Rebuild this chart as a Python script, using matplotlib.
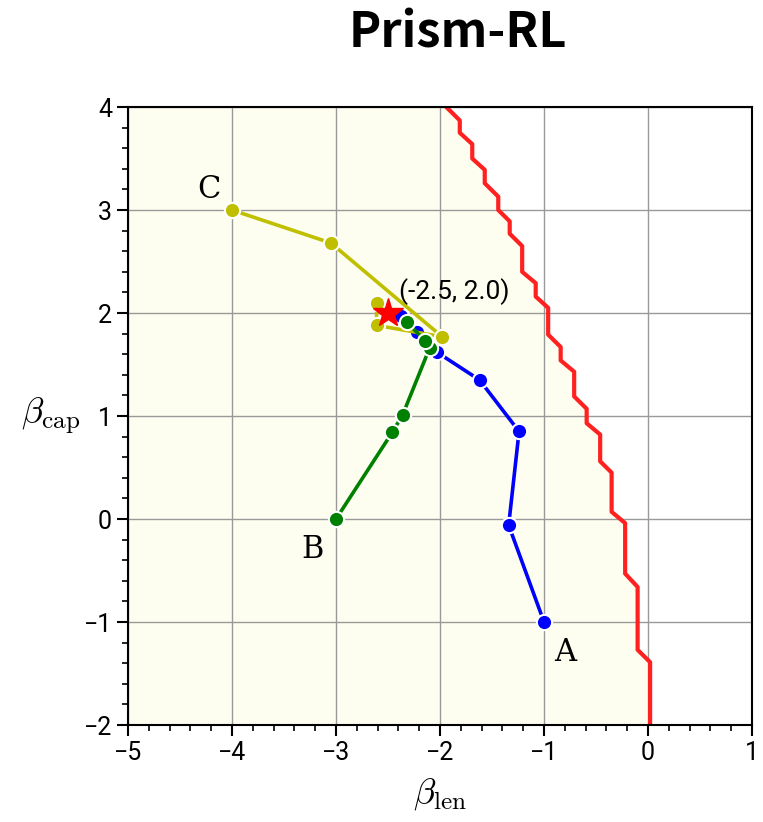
import numpy as np
import matplotlib
matplotlib.use('Agg')
import matplotlib.pyplot as plt
from matplotlib.ticker import MultipleLocator

plt.rcParams['font.family'] = ['Roboto', 'DejaVu Sans']
plt.rcParams['mathtext.fontset'] = 'cm'

# feasibility boundary (staircase)
bound_x = [-1.94, -1.81, -1.81, -1.69, -1.69, -1.57, -1.57, -1.44, -1.44, -1.33, -1.33,
           -1.21, -1.21, -1.08, -1.08, -0.96, -0.96, -0.84, -0.84, -0.71, -0.71, -0.59,
           -0.59, -0.46, -0.46, -0.35, -0.35, -0.22, -0.22, -0.10, -0.10, 0.02, 0.02]
bound_y = [4.00, 3.87, 3.75, 3.64, 3.50, 3.39, 3.26, 3.13, 3.00, 2.89, 2.77,
           2.65, 2.40, 2.29, 2.16, 2.05, 1.79, 1.67, 1.54, 1.43, 1.19, 1.07,
           0.93, 0.82, 0.56, 0.45, 0.07, -0.04, -0.53, -0.66, -1.27, -1.39, -2.00]

# trajectories
traj_a_x = [-1.00, -1.34, -1.24, -1.62, -2.03, -2.22, -2.38]
traj_a_y = [-1.00, -0.06, 0.85, 1.35, 1.62, 1.82, 1.97]
traj_b_x = [-3.00, -2.46, -2.36, -2.10, -2.14, -2.32]
traj_b_y = [0.00, 0.84, 1.01, 1.66, 1.73, 1.91]
traj_c_x = [-4.00, -3.05, -1.98, -2.61, -2.61]
traj_c_y = [3.00, 2.68, 1.77, 1.88, 2.10]

target = (-2.5, 2.0)

fig = plt.figure(figsize=(7.63, 8.22), dpi=100)
ax = fig.add_axes([0.1678, 0.118, 0.8178, 0.7518])

ax.fill_betweenx(bound_y, -5, bound_x, color='#fefef0', zorder=0)
ax.plot(bound_x, bound_y, color='#ff2020', lw=3, zorder=2)

ax.plot(traj_a_x, traj_a_y, '-o', color='b', lw=2.6, ms=11, mec='white', mew=1.5, zorder=3)
ax.plot(traj_b_x, traj_b_y, '-o', color='g', lw=2.6, ms=11, mec='white', mew=1.5, zorder=4)
ax.plot(traj_c_x, traj_c_y, '-o', color='y', lw=2.6, ms=11, mec='white', mew=1.5, zorder=3)
ax.plot(*target, marker='*', color='r', ms=22, mec='r', zorder=5)
ax.annotate('(%.1f, %.1f)' % target, target, xytext=(8, 6), textcoords='offset points',
            fontsize=19, va='bottom', ha='left', zorder=6)

ax.text(-0.8, -1.30, 'A', fontsize=22, family='DejaVu Serif', ha='center', va='center')
ax.text(-3.23, -0.30, 'B', fontsize=22, family='DejaVu Serif', ha='center', va='center')
ax.text(-4.22, 3.20, 'C', fontsize=22, family='DejaVu Serif', ha='center', va='center')

ax.set_xlim(-5, 1)
ax.set_ylim(-2, 4)
ax.xaxis.set_major_locator(MultipleLocator(1))
ax.yaxis.set_major_locator(MultipleLocator(1))
ax.xaxis.set_minor_locator(MultipleLocator(0.2))
ax.yaxis.set_minor_locator(MultipleLocator(0.2))
ax.tick_params(which='major', length=8, width=1.5, labelsize=18, direction='out')
ax.tick_params(which='minor', length=4, width=1.2, direction='out')
ax.grid(True, which='major', color='#999999', lw=1.0, zorder=1)
ax.set_axisbelow(True)
for s in ax.spines.values():
    s.set_linewidth(1.5)

ax.set_xlabel(r'$\beta_{\rm len}$', fontsize=26, labelpad=8)
ax.set_ylabel(r'$\beta_{\rm cap}$', fontsize=26, rotation=0, labelpad=24, va='center')
fig.suptitle('Prism-RL', fontsize=35, fontweight='bold', family='Noto Sans CJK JP',
             x=0.600, y=0.99)

fig.savefig('out.png', dpi=100)
